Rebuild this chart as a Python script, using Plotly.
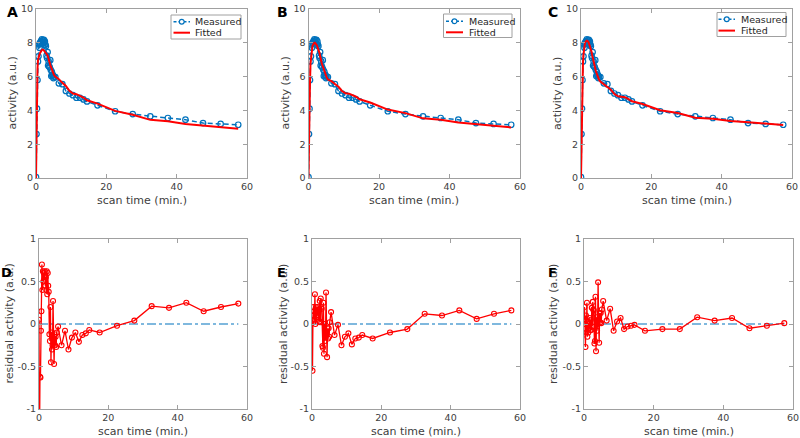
import plotly.graph_objects as go

W, H = 800, 438

# ---------------- data ----------------
time_min = [0, 0.14, 0.28, 0.42, 0.56, 0.7, 0.84, 0.98, 1.12, 1.26,
            1.4, 1.54, 1.68, 1.82, 1.96, 2.1, 2.24, 2.38, 2.52, 2.66,
            2.8, 3.0, 3.15, 3.3, 3.45, 3.6, 3.75, 3.9, 4.05, 4.2,
            4.35, 4.5, 4.65, 4.8, 4.95, 5.1, 5.5, 6.5, 7.5, 8.5,
            9.5, 10.5, 11.5, 12.5, 13.5, 14.5, 17.5, 22.5, 27.5, 32.5,
            37.5, 42.5, 47.5, 52.5, 57.5]

measured = [0.05, 2.6, 4.1, 5.8, 6.9, 7.2, 7.9, 7.7, 8.0, 7.95,
            8.1, 8.07, 8.2, 8.05, 8.15, 7.98, 8.17, 7.87, 8.08, 7.9,
            7.8, 7.24, 7.1, 7.45, 6.65, 6.9, 6.6, 6.55, 6.97, 6.4,
            6.03, 6.28, 6.07, 6.1, 5.91, 6.0, 5.97, 5.6, 5.55, 5.15,
            5.0, 4.9, 4.75, 4.75, 4.65, 4.53, 4.3, 3.95, 3.78, 3.65,
            3.55, 3.45, 3.25, 3.2, 3.15]

fit_A = [0.0, 4.0, 4.72, 6.43, 6.98, 7.05, 7.2, 7.3, 7.38, 7.45,
         7.5, 7.55, 7.58, 7.6, 7.6, 7.58, 7.55, 7.52, 7.48, 7.45,
         7.42, 7.36, 7.3, 7.25, 7.1, 7.0, 6.9, 6.8, 6.7, 6.6,
         6.5, 6.4, 6.32, 6.25, 6.18, 6.1, 6.0, 5.85, 5.63, 5.45,
         5.16, 5.0, 4.96, 4.88, 4.76, 4.6, 4.4, 3.97, 3.74, 3.44,
         3.36, 3.2, 3.1, 3.0, 2.91]

fit_B = [0.0, 3.15, 4.0, 5.6, 6.75, 7.15, 7.55, 7.7, 7.8, 7.87,
         7.93, 7.97, 8.0, 8.0, 7.98, 7.95, 7.9, 7.85, 7.78, 7.7,
         7.62, 7.5, 7.38, 7.2, 7.0, 6.9, 6.8, 6.7, 6.6, 6.5,
         6.42, 6.33, 6.24, 6.15, 6.06, 5.98, 5.83, 5.73, 5.56, 5.4,
         5.15, 5.01, 4.99, 4.92, 4.81, 4.66, 4.47, 4.05, 3.84, 3.53,
         3.45, 3.29, 3.19, 3.08, 2.99]

fit_C = [0.0, 2.4, 4.1, 6.07, 6.8, 7.3, 7.65, 7.85, 7.98, 8.05,
         8.1, 8.12, 8.13, 8.12, 8.1, 8.05, 7.98, 7.9, 7.82, 7.73,
         7.64, 7.47, 7.3, 7.13, 6.97, 6.82, 6.68, 6.55, 6.48, 6.35,
         6.25, 6.15, 6.05, 5.97, 5.9, 5.83, 5.7, 5.56, 5.37, 5.23,
         4.97, 4.83, 4.81, 4.78, 4.67, 4.54, 4.38, 4.01, 3.84, 3.57,
         3.51, 3.38, 3.3, 3.22, 3.14]

fits = [fit_A, fit_B, fit_C]
top_labels = ["A", "B", "C"]
bottom_labels = ["D", "E", "F"]
legend_names = ["Measured", "Fitted"]
x_ticks = [0, 20, 40, 60]
y_ticks_top = [0, 2, 4, 6, 8, 10]
y_ticks_res = [-1, -0.5, 0, 0.5, 1]
y_ticktext_res = ["-1", "-0.5", "0", "0.5", "1"]

# ---------------- layout geometry (pixels) ----------------
top_x = [(36, 247), (308.5, 520), (581, 792)]
bot_x = [(39, 247), (312, 520), (584, 793)]
top_y = (9, 178)
bot_y = (239, 409)
# legend boxes: (left, right, top, bottom, sample_x0, sample_x1, text_x, row1_y, row2_y)
legend_boxes = [
    (171, 241, 15, 39, 173.5, 190, 193, 21.7, 32.7),
    (443.5, 512, 14, 37.5, 446, 463, 466.5, 21.2, 32.3),
    (717, 786, 12.5, 36.5, 718.5, 735, 739, 19.3, 30.6),
]
letter_top_x = [12, 282, 553]
letter_bot_x = [6, 281.5, 552]
ytitle_top_x = [12, 285, 557.5]
ytitle_bot_x = [8.5, 283, 553]

BLUE = "#0072BD"
RED = "#FF0000"
FONT = "DejaVu Sans"
TICKC = "#404040"
LINEC = "#a0a0a0"
TICK_SIZE = 9.5
TITLE_SIZE = 11


def px_x(p):
    return p / W


def px_y(p):
    return 1 - p / H


fig = go.Figure()
layout = dict(
    width=W, height=H, autosize=False,
    margin=dict(l=0, r=0, t=0, b=0, pad=0, autoexpand=False),
    paper_bgcolor="white", plot_bgcolor="white",
    font=dict(family=FONT, size=TICK_SIZE, color=TICKC),
    showlegend=False,
)
annotations = []
shapes = []


def axis_common():
    return dict(
        showline=True, linecolor=LINEC, linewidth=1, mirror="ticks",
        ticks="inside", ticklen=4, tickcolor=LINEC, tickwidth=1,
        showgrid=False, zeroline=False, automargin=False,
        tickfont=dict(family=FONT, size=TICK_SIZE, color=TICKC),
    )


for i in range(3):
    fit = fits[i]
    residual = [m - f for m, f in zip(measured, fit)]
    ax_t = i + 1
    ax_b = i + 4
    xn_t = "x" if ax_t == 1 else f"x{ax_t}"
    yn_t = "y" if ax_t == 1 else f"y{ax_t}"
    xn_b = f"x{ax_b}"
    yn_b = f"y{ax_b}"

    fig.add_trace(go.Scatter(
        x=time_min, y=measured, mode="lines+markers", name=legend_names[0],
        line=dict(color=BLUE, width=1.5, dash="5px,3px"),
        marker=dict(symbol="circle-open", size=5.5, color=BLUE, line=dict(width=1.2)),
        xaxis=xn_t, yaxis=yn_t,
    ))
    fig.add_trace(go.Scatter(
        x=time_min, y=fit, mode="lines", name=legend_names[1],
        line=dict(color=RED, width=2),
        xaxis=xn_t, yaxis=yn_t,
    ))
    fig.add_trace(go.Scatter(
        x=[time_min[0], time_min[-1]], y=[0, 0], mode="lines",
        line=dict(color=BLUE, width=1.2, dash="dashdot"),
        xaxis=xn_b, yaxis=yn_b,
    ))
    fig.add_trace(go.Scatter(
        x=time_min, y=residual, mode="lines+markers",
        line=dict(color=RED, width=1.3),
        marker=dict(symbol="circle-open", size=5, color=RED, line=dict(width=1.1)),
        xaxis=xn_b, yaxis=yn_b,
    ))

    kx_t = "xaxis" if ax_t == 1 else f"xaxis{ax_t}"
    ky_t = "yaxis" if ax_t == 1 else f"yaxis{ax_t}"
    layout[kx_t] = dict(axis_common(), domain=[px_x(top_x[i][0]), px_x(top_x[i][1])],
                        range=[0, 60], tickvals=x_ticks, anchor=yn_t)
    layout[ky_t] = dict(axis_common(), domain=[px_y(top_y[1]), px_y(top_y[0])],
                        range=[0, 10], tickvals=y_ticks_top, anchor=xn_t)
    layout[f"xaxis{ax_b}"] = dict(axis_common(), domain=[px_x(bot_x[i][0]), px_x(bot_x[i][1])],
                                  range=[0, 60], tickvals=x_ticks, anchor=yn_b)
    layout[f"yaxis{ax_b}"] = dict(axis_common(), domain=[px_y(bot_y[1]), px_y(bot_y[0])],
                                  range=[-1, 1], tickvals=y_ticks_res, ticktext=y_ticktext_res,
                                  anchor=xn_b)

    # legend (drawn as a small box in paper space)
    L, R, T, B, s0, s1, tx, r1, r2 = legend_boxes[i]
    shapes.append(dict(type="rect", xref="paper", yref="paper",
                       x0=px_x(L), x1=px_x(R), y0=px_y(B), y1=px_y(T),
                       line=dict(color=LINEC, width=1), fillcolor="white", layer="above"))
    shapes.append(dict(type="line", xref="paper", yref="paper",
                       x0=px_x(s0), x1=px_x(s1), y0=px_y(r1), y1=px_y(r1),
                       line=dict(color=BLUE, width=1.5, dash="3px,2px"), layer="above"))
    cx = (s0 + s1) / 2
    shapes.append(dict(type="circle", xref="paper", yref="paper",
                       x0=px_x(cx - 2.4), x1=px_x(cx + 2.4), y0=px_y(r1 + 2.4), y1=px_y(r1 - 2.4),
                       line=dict(color=BLUE, width=1.2), fillcolor="white", layer="above"))
    shapes.append(dict(type="line", xref="paper", yref="paper",
                       x0=px_x(s0), x1=px_x(s1), y0=px_y(r2), y1=px_y(r2),
                       line=dict(color=RED, width=2), layer="above"))
    for name, ry in zip(legend_names, (r1, r2)):
        annotations.append(dict(
            text=name, xref="paper", yref="paper", x=px_x(tx), y=px_y(ry),
            showarrow=False, xanchor="left", yanchor="middle",
            font=dict(family=FONT, size=TICK_SIZE, color="#262626")))

    # axis titles
    annotations.append(dict(
        text="scan time (min.)", xref="paper", yref="paper",
        x=px_x((top_x[i][0] + top_x[i][1]) / 2), y=px_y(200),
        showarrow=False, xanchor="center", yanchor="middle",
        font=dict(family=FONT, size=TITLE_SIZE, color=TICKC)))
    annotations.append(dict(
        text="scan time (min.)", xref="paper", yref="paper",
        x=px_x((bot_x[i][0] + bot_x[i][1]) / 2), y=px_y(431.5),
        showarrow=False, xanchor="center", yanchor="middle",
        font=dict(family=FONT, size=TITLE_SIZE, color=TICKC)))
    annotations.append(dict(
        text="activity (a.u.)", xref="paper", yref="paper", textangle=-90,
        x=px_x(ytitle_top_x[i]), y=px_y((top_y[0] + top_y[1]) / 2),
        showarrow=False, xanchor="center", yanchor="middle",
        font=dict(family=FONT, size=TITLE_SIZE, color=TICKC)))
    annotations.append(dict(
        text="residual activity (a.u.)", xref="paper", yref="paper", textangle=-90,
        x=px_x(ytitle_bot_x[i]), y=px_y((bot_y[0] + bot_y[1]) / 2),
        showarrow=False, xanchor="center", yanchor="middle",
        font=dict(family=FONT, size=TITLE_SIZE, color=TICKC)))
    # panel letters
    annotations.append(dict(
        text=f"<b>{top_labels[i]}</b>", xref="paper", yref="paper",
        x=px_x(letter_top_x[i]), y=px_y(12), showarrow=False,
        xanchor="center", yanchor="middle",
        font=dict(family=FONT, size=14, color="black")))
    annotations.append(dict(
        text=f"<b>{bottom_labels[i]}</b>", xref="paper", yref="paper",
        x=px_x(letter_bot_x[i]), y=px_y(272), showarrow=False,
        xanchor="center", yanchor="middle",
        font=dict(family=FONT, size=13, color="black")))

layout["annotations"] = annotations
layout["shapes"] = shapes
fig.update_layout(**layout)
fig.write_html(
    "out.html",
    config={"displayModeBar": False, "staticPlot": True},
    post_script="document.body.style.margin='0';document.body.style.overflow='hidden';",
)
